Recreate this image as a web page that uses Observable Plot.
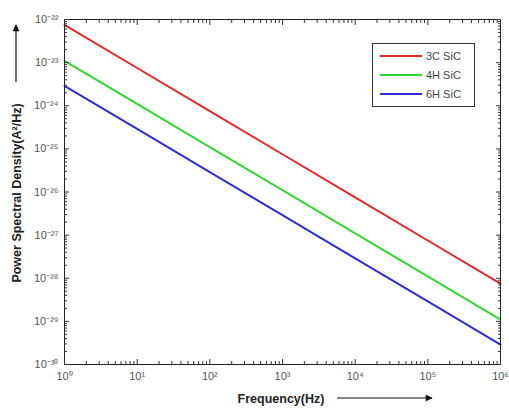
<!DOCTYPE html>
<html><head><meta charset="utf-8">
<script src="https://cdn.jsdelivr.net/npm/d3@7"></script>
<script src="https://cdn.jsdelivr.net/npm/@observablehq/plot@0.6"></script>
<style>
html,body{margin:0;padding:0;background:#fff;}
#wrap{position:relative;width:509px;height:411px;font-family:"Liberation Sans",Arial,sans-serif;}
#wrap svg.plot{position:absolute;left:0;top:0;}
#over{position:absolute;left:0;top:0;pointer-events:none;}
</style>
</head><body>
<div id="wrap"></div>
<script>
const freqs = [1, 10, 100, 1e3, 1e4, 1e5, 1e6];
const psd3C = [7.5e-23, 7.5e-24, 7.5e-25, 7.5e-26, 7.5e-27, 7.5e-28, 7.5e-29];
const psd4H = [1.1e-23, 1.1e-24, 1.1e-25, 1.1e-26, 1.1e-27, 1.1e-28, 1.1e-29];
const psd6H = [2.9e-24, 2.9e-25, 2.9e-26, 2.9e-27, 2.9e-28, 2.9e-29, 2.9e-30];
const seriesNames = ["3C SiC", "4H SiC", "6H SiC"];
const seriesColors = ["#e02828", "#2fd82f", "#2e2ed0"];
const xMajor = [1, 10, 100, 1e3, 1e4, 1e5, 1e6];
const yExp = [-30, -29, -28, -27, -26, -25, -24, -23, -22];

const sup = {"-":"⁻","0":"⁰","1":"¹","2":"²","3":"³","4":"⁴","5":"⁵","6":"⁶","7":"⁷","8":"⁸","9":"⁹"};
const pow = e => "10" + String(e).split("").map(c => sup[c]).join("");

const rows = [];
[psd3C, psd4H, psd6H].forEach((arr, i) => arr.forEach((v, j) => rows.push({f: freqs[j], p: v, s: seriesNames[i]})));

const yMajor = yExp.map(e => Math.pow(10, e));
const xMinor = [], yMinor = [];
for (let d = 0; d < 6; d++) for (let k = 2; k <= 9; k++) xMinor.push(k * Math.pow(10, d));
for (let e = -30; e < -22; e++) for (let k = 2; k <= 9; k++) yMinor.push(k * Math.pow(10, e));

const tickColor = "#333";
const blank = () => "";
const chart = Plot.plot({
  width: 509, height: 411,
  marginLeft: 64, marginRight: 9, marginTop: 19, marginBottom: 47,
  style: {fontFamily: "Liberation Sans, Arial, sans-serif", background: "transparent"},
  x: {type: "log", domain: [1, 1e6], label: null},
  y: {type: "log", domain: [1e-30, 1e-22], label: null},
  color: {domain: seriesNames, range: seriesColors},
  marks: [
    Plot.line(rows, {x: "f", y: "p", z: "s", stroke: "s", strokeWidth: 2}),
    Plot.frame({stroke: "#222", strokeWidth: 1}),
    Plot.axisX(xMajor, {anchor: "bottom", tickSize: -5, tickFormat: blank, stroke: tickColor, label: null}),
    Plot.axisX(xMinor, {anchor: "bottom", tickSize: -3, tickFormat: blank, stroke: tickColor, label: null}),
    Plot.axisX(xMajor, {anchor: "top", tickSize: -5, tickFormat: blank, stroke: tickColor, label: null}),
    Plot.axisX(xMinor, {anchor: "top", tickSize: -3, tickFormat: blank, stroke: tickColor, label: null}),
    Plot.axisY(yMajor, {anchor: "left", tickSize: -5, tickFormat: blank, stroke: tickColor, label: null}),
    Plot.axisY(yMinor, {anchor: "left", tickSize: -3, tickFormat: blank, stroke: tickColor, label: null}),
    Plot.axisY(yMajor, {anchor: "right", tickSize: -5, tickFormat: blank, stroke: tickColor, label: null}),
    Plot.axisY(yMinor, {anchor: "right", tickSize: -3, tickFormat: blank, stroke: tickColor, label: null}),
    Plot.axisX(xMajor, {anchor: "bottom", tickSize: 0, tickPadding: 8, tickFormat: v => pow(Math.round(Math.log10(v))), fontSize: 11, fill: "#555", label: null}),
    Plot.axisY(yMajor, {anchor: "left", tickSize: 0, tickPadding: 6, tickFormat: v => pow(Math.round(Math.log10(v))), fontSize: 11, fill: "#555", label: null})
  ]
});
chart.classList.add("plot");
const wrap = document.getElementById("wrap");
wrap.appendChild(chart);

// overlay: axis titles with arrows, legend
const over = d3.select(wrap).append("svg").attr("id", "over").attr("width", 509).attr("height", 411);
const defs = over.append("defs");
defs.append("marker").attr("id", "ah").attr("viewBox", "0 0 10 10").attr("refX", 9).attr("refY", 5)
  .attr("markerWidth", 9).attr("markerHeight", 7).attr("orient", "auto").attr("markerUnits", "userSpaceOnUse")
  .append("path").attr("d", "M0,0L10,5L0,10z").attr("fill", "#111");

over.append("text").attr("x", 281).attr("y", 403).attr("text-anchor", "middle")
  .attr("font-size", 12.5).attr("font-weight", "bold").attr("fill", "#222").text("Frequency(Hz)");
over.append("line").attr("x1", 337).attr("y1", 398).attr("x2", 432).attr("y2", 398)
  .attr("stroke", "#111").attr("stroke-width", 1.2).attr("marker-end", "url(#ah)");

over.append("text").attr("transform", "translate(21,193) rotate(-90)").attr("text-anchor", "middle")
  .attr("font-size", 12.5).attr("font-weight", "bold").attr("fill", "#222").text("Power Spectral Density(A²/Hz)");
over.append("line").attr("x1", 16).attr("y1", 82).attr("x2", 16).attr("y2", 25)
  .attr("stroke", "#111").attr("stroke-width", 1.2).attr("marker-end", "url(#ah)");

const lg = over.append("g");
lg.append("rect").attr("x", 372.5).attr("y", 43.5).attr("width", 102).attr("height", 63)
  .attr("fill", "#fff").attr("stroke", "#333");
seriesNames.forEach((n, i) => {
  const y = 56 + i * 19;
  lg.append("line").attr("x1", 380).attr("x2", 422).attr("y1", y).attr("y2", y)
    .attr("stroke", seriesColors[i]).attr("stroke-width", 2);
  lg.append("text").attr("x", 426).attr("y", y + 4).attr("font-size", 11).attr("fill", "#444").text(n);
});
</script>
</body></html>
